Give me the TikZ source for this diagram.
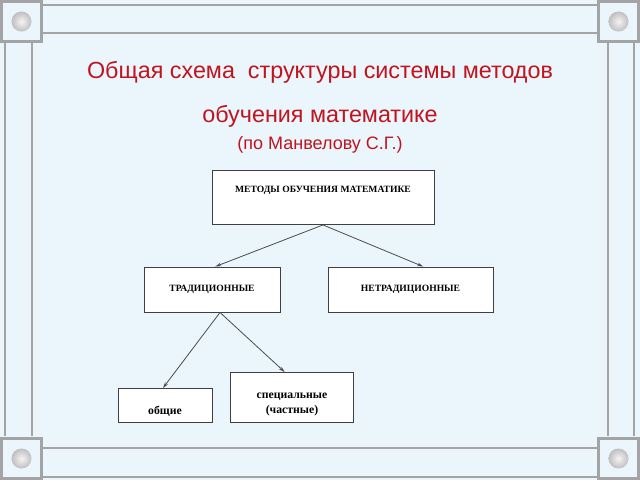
\documentclass[tikz,border=0pt]{standalone}
\usepackage{fontspec}
\setmainfont{Liberation Serif}
\newfontfamily\headfont{Liberation Sans}
\usetikzlibrary{arrows.meta}

\definecolor{pagebg}{HTML}{EAF5FC}
\definecolor{framegray}{HTML}{A4A4A4}
\definecolor{headred}{HTML}{C0141E}

\begin{document}
\begin{tikzpicture}[x=0.75pt, y=-0.75pt,
    band/.style={draw=framegray, line width=2.2pt},
    box/.style={draw=black!75, fill=white, line width=0.7pt, inner xsep=0pt, inner ysep=0pt},
    caps/.style={font=\bfseries\fontsize{7.2}{8.6}\selectfont},
    small/.style={font=\bfseries\fontsize{8.8}{11.5}\selectfont},
    link/.style={-{Stealth[length=4.5pt,width=2.6pt]}, draw=black!70, line width=0.6pt}]
    \useasboundingbox (0,0) rectangle (640,480);
    \fill[pagebg] (0,0) rectangle (640,480);

    % frame
    \draw[band] (43,5) -- (597,5) (43,33) -- (597,33);
    \draw[band] (43,448) -- (597,448) (43,477) -- (597,477);
    \draw[band] (5,43) -- (5,436) (32,43) -- (32,436);
    \draw[band] (608,43) -- (608,436) (634,43) -- (634,436);
    \foreach \cx/\cy in {0/0, 597/0, 0/437, 597/437} {
        \draw[band, fill=pagebg] (\cx+1.5,\cy+1.5) rectangle (\cx+41.5,\cy+41.5);
        \shade[inner color=gray!8, outer color=gray!50] (\cx+21.5,\cy+21.5) circle (7.5pt);
    }

    % heading
    \node[anchor=base, text=headred, font=\headfont\fontsize{17.5}{20}\selectfont] (head1) at (320,78)
        {Общая схема \ структуры системы методов};
    \node[anchor=base, text=headred, font=\headfont\fontsize{17.5}{20}\selectfont] (head2) at (320,122)
        {обучения математике};
    \node[anchor=base, text=headred, font=\headfont\fontsize{13.5}{16}\selectfont] (head3) at (320,149)
        {(по Манвелову С.Г.)};

    % boxes
    \node[box, caps, anchor=north, minimum width=166.5pt, text height=16.5pt, text depth=24pt] (methods) at (323,170)
        {МЕТОДЫ ОБУЧЕНИЯ МАТЕМАТИКЕ};
    \node[box, caps, minimum width=102pt, minimum height=33.75pt] (trad) at (212,289.5) {ТРАДИЦИОННЫЕ};
    \node[box, caps, minimum width=123.75pt, minimum height=33.75pt] (nontrad) at (410.5,289.5) {НЕТРАДИЦИОННЫЕ};
    \node[box, small, anchor=north, minimum width=70.5pt, text height=19.5pt, text depth=6pt] (general) at (165,388)
        {общие};
    \node[box, small, anchor=north, minimum width=92pt, minimum height=37.5pt, align=center] (special) at (292,372)
        {\rule{0pt}{15pt}специальные\\(частные)};

    % arrows
    \draw[link] (methods.south) -- ([xshift=2.5pt]trad.north);
    \draw[link] (methods.south) -- ([xshift=9.5pt]nontrad.north);
    \draw[link] ([xshift=6pt]trad.south) -- ([xshift=-1.5pt]general.north);
    \draw[link] ([xshift=6pt]trad.south) -- ([xshift=-5.5pt]special.north);
\end{tikzpicture}
\end{document}
